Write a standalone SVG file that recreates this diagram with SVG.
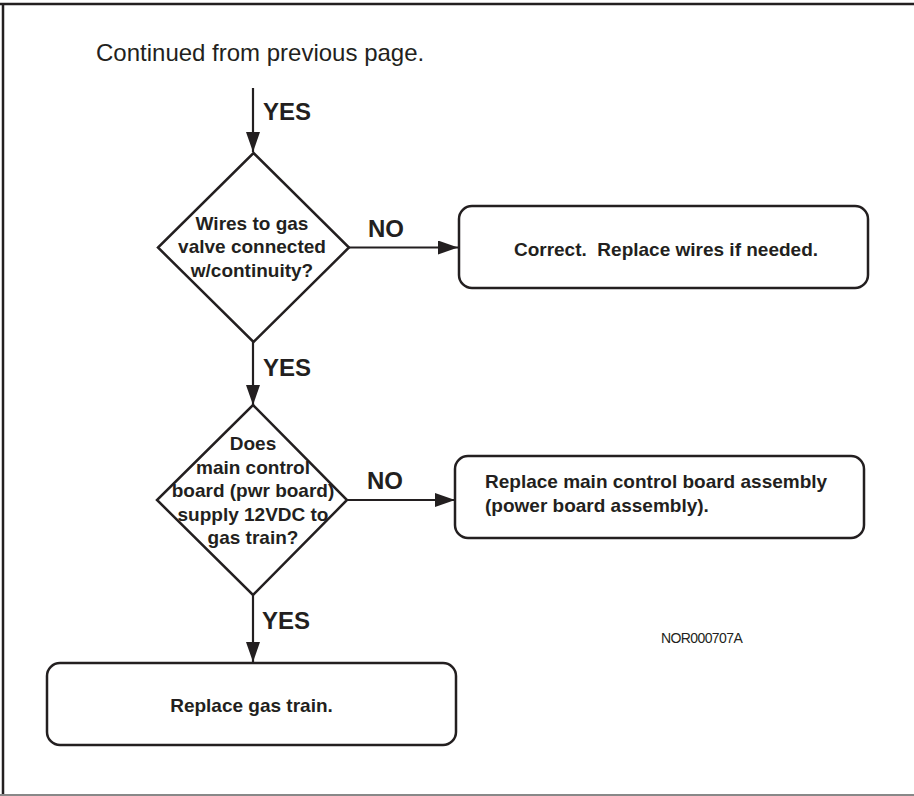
<svg xmlns="http://www.w3.org/2000/svg" width="914" height="796" viewBox="0 0 914 796">
<style>
.t{font-family:"Liberation Sans",Arial,sans-serif;fill:#231f20}
.b{font-weight:bold;font-size:19px}
.lbl{font-weight:bold;font-size:24px}
.shape{fill:#fff;stroke:#231f20;stroke-width:2.5}
.conn{stroke:#231f20;stroke-width:2.2;fill:none}
</style>
<defs>
<marker id="ah" markerUnits="userSpaceOnUse" markerWidth="20" markerHeight="14" refX="20" refY="7" orient="auto">
<path d="M0,0 L20,7 L0,14 z" fill="#231f20"/>
</marker>
</defs>
<rect width="914" height="796" fill="#fff"/>
<g id="frame">
<line x1="0" y1="4" x2="914" y2="4" stroke="#231f20" stroke-width="2.5"/>
<line x1="3" y1="3" x2="3" y2="795" stroke="#231f20" stroke-width="2.5"/>
<line x1="0" y1="795" x2="914" y2="795" stroke="#888" stroke-width="2"/>
</g>
<text class="t" x="96" y="61" font-size="24">Continued from previous page.</text>
<g id="connectors">
<line class="conn" x1="253" y1="88" x2="253" y2="152" marker-end="url(#ah)"/>
<line class="conn" x1="349" y1="247.5" x2="458" y2="247.5" marker-end="url(#ah)"/>
<line class="conn" x1="253" y1="342" x2="253" y2="405" marker-end="url(#ah)"/>
<line class="conn" x1="347" y1="500" x2="455" y2="500" marker-end="url(#ah)"/>
<line class="conn" x1="253" y1="595" x2="253" y2="662" marker-end="url(#ah)"/>
<text class="t lbl" x="263" y="120">YES</text>
<text class="t lbl" x="368" y="237">NO</text>
<text class="t lbl" x="263" y="376">YES</text>
<text class="t lbl" x="367" y="489">NO</text>
<text class="t lbl" x="262" y="629">YES</text>
</g>
<g id="decision1">
<polygon class="shape" points="253.5,153 349,247.5 253.5,342 158,247.5"/>
<text class="t b" text-anchor="middle" x="252" y="230">Wires to gas</text>
<text class="t b" text-anchor="middle" x="252" y="253">valve connected</text>
<text class="t b" text-anchor="middle" x="252" y="277">w/continuity?</text>
</g>
<g id="box1">
<rect class="shape" x="459" y="206" width="409" height="82" rx="13"/>
<text class="t b" text-anchor="middle" x="666" y="256" xml:space="preserve">Correct.  Replace wires if needed.</text>
</g>
<g id="decision2">
<polygon class="shape" points="253,405 347,500 253,595 157,500"/>
<text class="t b" text-anchor="middle" x="253" y="450">Does</text>
<text class="t b" text-anchor="middle" x="253" y="474">main control</text>
<text class="t b" text-anchor="middle" x="253" y="497">board (pwr board)</text>
<text class="t b" text-anchor="middle" x="253" y="521">supply 12VDC to</text>
<text class="t b" text-anchor="middle" x="253" y="544">gas train?</text>
</g>
<g id="box2">
<rect class="shape" x="455" y="456" width="409" height="82" rx="13"/>
<text class="t b" x="485" y="488">Replace main control board assembly</text>
<text class="t b" x="485" y="512">(power board assembly).</text>
</g>
<g id="box3">
<rect class="shape" x="47" y="663" width="409" height="82" rx="13"/>
<text class="t b" text-anchor="middle" x="251.5" y="712">Replace gas train.</text>
</g>
<text class="t" x="661" y="643" font-size="14" letter-spacing="-0.6">NOR000707A</text>
</svg>
